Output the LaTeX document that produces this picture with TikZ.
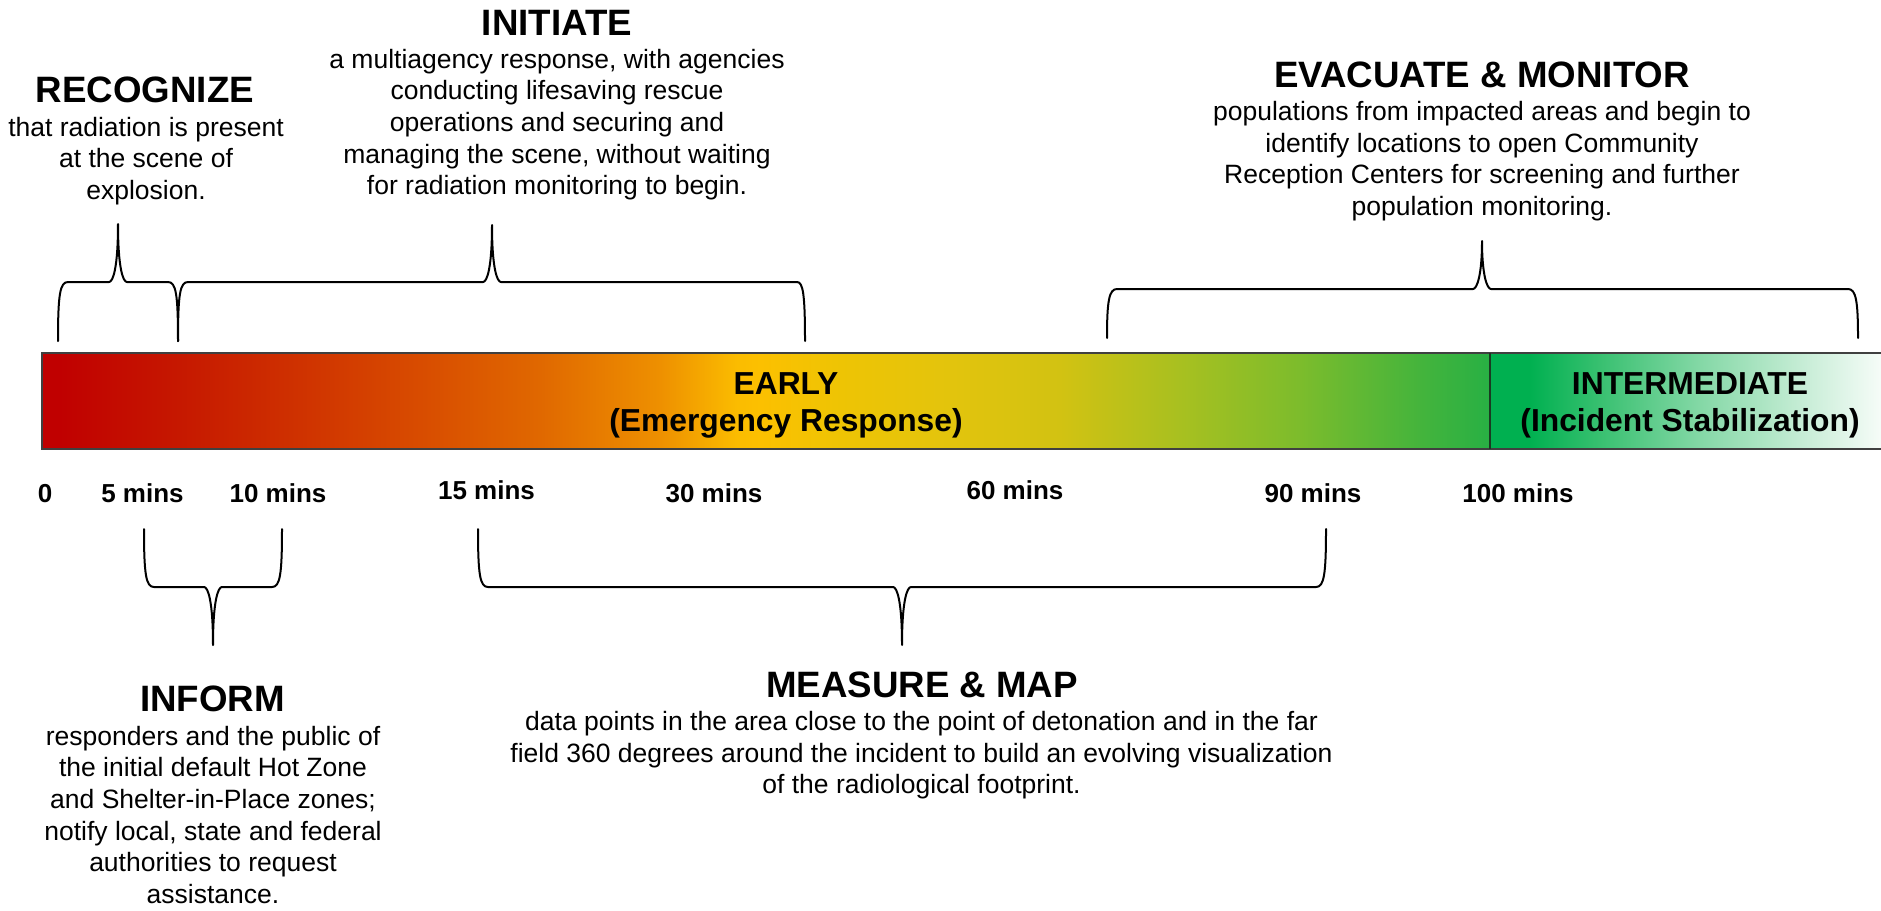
\documentclass[tikz,border=0pt]{standalone}
\usepackage{fontspec}
\setmainfont{Liberation Sans}
\definecolor{ea}{HTML}{C00000}
\definecolor{eb}{HTML}{C61800}
\definecolor{ec}{HTML}{CF3200}
\definecolor{ed}{HTML}{D84C00}
\definecolor{ee}{HTML}{E06800}
\definecolor{ef}{HTML}{EE9000}
\definecolor{eg}{HTML}{FBBC00}
\definecolor{eh}{HTML}{FCC000}
\definecolor{ei}{HTML}{EEC404}
\definecolor{ej}{HTML}{E4C40C}
\definecolor{ek}{HTML}{D2C212}
\definecolor{el}{HTML}{A8C020}
\definecolor{em}{HTML}{7CBC2C}
\definecolor{en}{HTML}{44B43C}
\definecolor{eo}{HTML}{28B044}
\definecolor{ia}{HTML}{00B050}
\definecolor{ib}{HTML}{38C070}
\definecolor{ic}{HTML}{84D8A6}
\definecolor{id}{HTML}{C4ECD4}
\definecolor{ie}{HTML}{F6FCF8}
\definecolor{barline}{HTML}{404040}
\definecolor{divline}{HTML}{1A3A22}
\pgfdeclarehorizontalshading{earlyshade}{100bp}{color(0bp)=(ea); color(25bp)=(ea); color(25.6bp)=(ea); color(29.75bp)=(eb); color(33.9bp)=(ec); color(38.05bp)=(ed); color(42.2bp)=(ee); color(46.35bp)=(ef); color(49bp)=(eg); color(49.8bp)=(eh); color(52.55bp)=(ei); color(56bp)=(ej); color(60.15bp)=(ek); color(64.3bp)=(el); color(68.45bp)=(em); color(72.6bp)=(en); color(75bp)=(eo); color(100bp)=(eo)}
\pgfdeclarehorizontalshading{intshade}{100bp}{color(0bp)=(ia); color(25bp)=(ia); color(30bp)=(ia); color(39bp)=(ib); color(51.85bp)=(ic); color(64.5bp)=(id); color(75bp)=(ie); color(100bp)=(ie)}
\newcommand\hdfont{\fontsize{36.7}{44}\selectfont\bfseries}
\newcommand\bdfont{\fontsize{26.5}{31.7}\selectfont}
\newcommand\tkfont{\fontsize{26}{31}\selectfont\bfseries}
\newcommand\brfont{\fontsize{31.8}{37.7}\selectfont\bfseries}
\tikzset{
  head/.style={font=\hdfont, anchor=base, inner sep=0pt},
  body/.style={font=\bdfont, align=center, anchor=base, inner sep=0pt},
  tick/.style={font=\tkfont, anchor=base, inner sep=0pt},
  barlbl/.style={font=\brfont, align=center, anchor=base, inner sep=0pt},
  brace/.style={draw=black, line width=2pt, line join=round, line cap=round},
  barborder/.style={draw=barline, line width=1.6pt},
  divider/.style={draw=divline, line width=2pt}
}
\begin{document}
\begin{tikzpicture}[x=1pt,y=-1pt]
\useasboundingbox (0,0) rectangle (1881,910);
% bar
\shade[shading=earlyshade] (42,353) rectangle (1490,449);
\shade[shading=intshade] (1490,353) rectangle (1881,449);
\draw[barborder] (42,353) rectangle (1890,449);
\draw[divider] (1490,353) -- (1490,449);
\node[barlbl] (early) at (786,431.7) {EARLY\\(Emergency Response)};
\node[barlbl] (inter) at (1690,431.7) {INTERMEDIATE\\(Incident Stabilization)};
% ticks
\node[tick] (t0) at (45,502) {0};
\node[tick] (t5) at (142.5,502) {5 mins};
\node[tick] (t10) at (278,502) {10 mins};
\node[tick] (t15) at (486.5,499) {15 mins};
\node[tick] (t30) at (714,502) {30 mins};
\node[tick] (t60) at (1015,499) {60 mins};
\node[tick] (t90) at (1313,502) {90 mins};
\node[tick] (t100) at (1518,502) {100 mins};
% top braces
\draw[brace] (58,341) .. controls (58,294) and (60,282) .. (68,282) -- (109,282) .. controls (113,282) and (118,268) .. (118,224) .. controls (118,268) and (123,282) .. (127,282) -- (168,282) .. controls (176,282) and (178,294) .. (178,341);
\draw[brace] (178,341) .. controls (178,294) and (180,282) .. (188,282) -- (483,282) .. controls (487,282) and (492,268) .. (492,225) .. controls (492,268) and (497,282) .. (501,282) -- (797,282) .. controls (803,282) and (805,294) .. (805,341);
\draw[brace] (1107,338) .. controls (1107,301) and (1109,289) .. (1117,289) -- (1473,289) .. controls (1477,289) and (1482,275) .. (1482,241) .. controls (1482,275) and (1487,289) .. (1491,289) -- (1848,289) .. controls (1856,289) and (1858,301) .. (1858,338);
% bottom braces
\draw[brace] (144,529) .. controls (144,575) and (146,587) .. (154,587) -- (204,587) .. controls (208,587) and (213,601) .. (213,645) .. controls (213,601) and (218,587) .. (222,587) -- (272,587) .. controls (280,587) and (282,575) .. (282,529);
\draw[brace] (478,529) .. controls (478,575) and (480,587) .. (488,587) -- (893,587) .. controls (897,587) and (902,601) .. (902,645) .. controls (902,601) and (907,587) .. (911,587) -- (1316,587) .. controls (1324,587) and (1326,575) .. (1326,529);
% texts
\node[head] (rech) at (145,102) {RECOGNIZE};
\node[body] (recb) at (146,199.4) {that radiation is present\\at the scene of\\explosion.};
\node[head] (inih) at (557,35) {INITIATE};
\node[body] (inib) at (557,194.8) {a multiagency response, with agencies\\conducting lifesaving rescue\\operations and securing and\\managing the scene, without waiting\\for radiation monitoring to begin.};
\node[head] (evah) at (1482,87) {EVACUATE \& MONITOR};
\node[body] (evab) at (1482,215.6) {populations from impacted areas and begin to\\identify locations to open Community\\Reception Centers for screening and further\\population monitoring.};
\node[head] (infh) at (212.5,711) {INFORM};
\node[body] (infb) at (213,903.5) {responders and the public of\\the initial default Hot Zone\\and Shelter-in-Place zones;\\notify local, state and federal\\authorities to request\\assistance.};
\node[head] (meah) at (922,697) {MEASURE \& MAP};
\node[body] (meab) at (921.5,793.9) {data points in the area close to the point of detonation and in the far\\field 360 degrees around the incident to build an evolving visualization\\of the radiological footprint.};
\end{tikzpicture}
\end{document}
